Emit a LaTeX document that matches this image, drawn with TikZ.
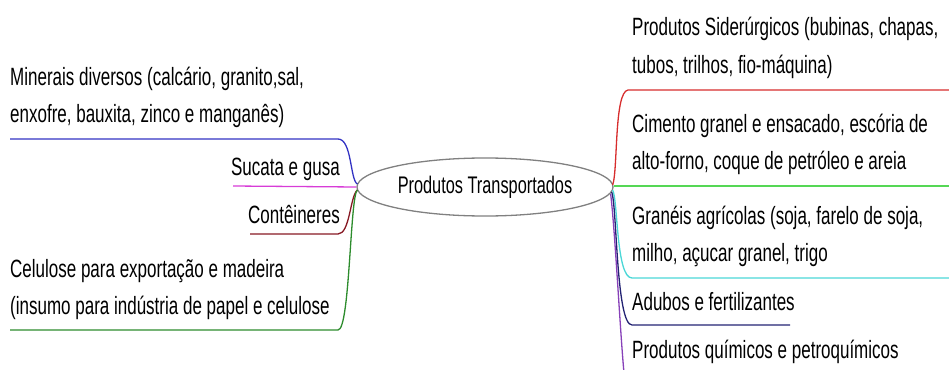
\documentclass[tikz,border=0pt]{standalone}
\usepackage{fontspec}
\setmainfont{Liberation Sans}[FakeStretch=0.68]
\usepackage{xcolor}
\usetikzlibrary{
    positioning,
    calc,
    shapes.geometric
}
\tikzset{
  leaf/.style    = {inner sep=0pt, align=left,
                    font=\fontsize{25}{37}\selectfont},
  hubnode/.style = {ellipse, draw=hubGray, line width=1.3pt, fill=white,
                    minimum width=256pt, minimum height=58pt, inner sep=0pt,
                    font=\fontsize{24}{28}\selectfont},
  link/.style    = {line width=1.3pt}
}
\definecolor{hubGray}{RGB}{128,128,128}
\definecolor{mapBlue}{RGB}{50,50,195}
\definecolor{mapMagenta}{RGB}{215,60,215}
\definecolor{mapWine}{RGB}{135,25,35}
\definecolor{mapForest}{RGB}{45,140,45}
\definecolor{mapRed}{RGB}{215,45,45}
\definecolor{mapLime}{RGB}{85,215,85}
\definecolor{mapCyan}{RGB}{75,215,215}
\definecolor{mapNavy}{RGB}{35,35,115}
\definecolor{mapPurple}{RGB}{135,65,185}

\begin{document}
\begin{tikzpicture}[x=1pt, y=-1pt]

\clip (0,0) rectangle (949,369);

%% --- Central node ---
\node[hubnode] (hub) at (485,187) {Produtos Transportados};

%% --- Left branches ---
\node[leaf, anchor=base west] (mine) at (10,122)
  {Minerais diversos (calcário, granito,sal,\\
   enxofre, bauxita, zinco e manganês)};
\node[leaf, anchor=base east] (scrap) at (340,175) {Sucata e gusa};
\node[leaf, anchor=base east] (box) at (340,223) {Contêineres};
\node[leaf, anchor=base west] (pulp) at (10,314)
  {Celulose para exportação e madeira\\
   (insumo para indústria de papel e celulose};

%% --- Right branches ---
\node[leaf, anchor=base west] (steel) at (632,73)
  {Produtos Siderúrgicos (bubinas, chapas,\\
   tubos, trilhos, fio-máquina)};
\node[leaf, anchor=base west] (cement) at (632,169)
  {Cimento granel e ensacado, escória de\\
   alto-forno, coque de petróleo e areia};
\node[leaf, anchor=base west] (grain) at (632,261)
  {Granéis agrícolas (soja, farelo de soja,\\
   milho, açucar granel, trigo};
\node[leaf, anchor=base west] (fert) at (632,310) {Adubos e fertilizantes};
\node[leaf, anchor=base west] (chem) at (632,358)
  {Produtos químicos e petroquímicos};

%% --- Underline ends ---
\coordinate (mineL)  at (10,139);
\coordinate (scrapL) at (233,186);
\coordinate (boxL)   at (250,234);
\coordinate (pulpL)  at (10,330);
\coordinate (steelR) at (949,90);
\coordinate (cemR)   at (949,186);
\coordinate (grainR) at (949,278);
\coordinate (fertR)  at (790,325);
\coordinate (chemB)  at (624,373);

%% --- Left connectors ---
\draw[link, mapBlue]    (mineL) -- (338,139)
  .. controls (352,139) and (350,180) .. ($(hub.west)+(1,-3)$);
\draw[link, mapMagenta] (scrapL) -- (hub.west);
\draw[link, mapWine]    (boxL) -- (338,234)
  .. controls (350,234) and (350,196) .. ($(hub.west)+(1,3)$);
\draw[link, mapForest]  (pulpL) -- (338,330)
  .. controls (350,330) and (350,196) .. ($(hub.west)+(1,3)$);

%% --- Right connectors ---
\draw[link, mapRed]    ($(hub.east)+(-1,-2)$)
  .. controls (618,170) and (614,92) .. (628,90) -- (steelR);
\draw[link, mapLime]   ($(hub.east)+(0,-1)$) -- (cemR);
\draw[link, mapCyan]   ($(hub.east)+(-1,3)$)
  .. controls (618,200) and (616,278) .. (632,278) -- (grainR);
\draw[link, mapNavy]   ($(hub.east)+(-2,5)$)
  .. controls (617,205) and (616,325) .. (632,325) -- (fertR);
\draw[link, mapPurple] ($(hub.east)+(-3,7)$)
  .. controls (615,230) and (620,330) .. (chemB);

\end{tikzpicture}
\end{document}
